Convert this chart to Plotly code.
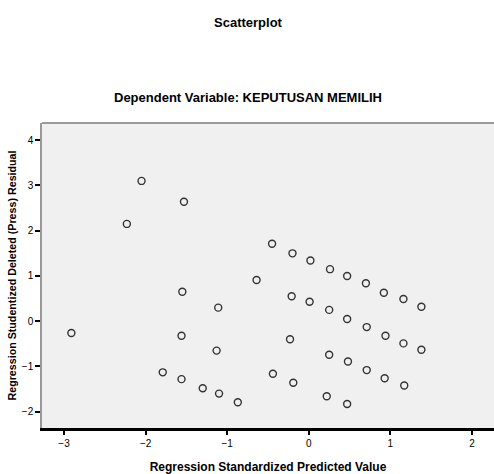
import plotly.graph_objects as go

# Regression standardized predicted value (x) and residual (y)
pred = [-2.05, -1.53, -2.23, -0.45, -0.20, -0.64, -1.55, -0.21, -1.11, -2.91,
        -1.56, -0.23, -1.13, -1.79, -1.56, -0.44, -0.19, -1.30, -1.10, -0.87,
        0.02, 0.26, 0.47, 0.70, 0.92, 1.16, 1.38,
        0.01, 0.25, 0.47, 0.71, 0.94, 1.16, 1.38,
        0.25, 0.48, 0.71, 0.93, 1.17,
        0.22, 0.47]
resid = [3.10, 2.64, 2.15, 1.71, 1.50, 0.91, 0.65, 0.55, 0.30, -0.26,
         -0.32, -0.40, -0.65, -1.13, -1.28, -1.16, -1.36, -1.48, -1.60, -1.79,
         1.34, 1.15, 1.00, 0.84, 0.63, 0.49, 0.32,
         0.43, 0.25, 0.05, -0.13, -0.32, -0.49, -0.63,
         -0.74, -0.89, -1.08, -1.26, -1.42,
         -1.66, -1.83]

x_ticks = [-3, -2, -1, 0, 1, 2]
y_ticks = [-2, -1, 0, 1, 2, 3, 4]

title = "Scatterplot"
subtitle = "Dependent Variable: KEPUTUSAN MEMILIH"
x_title = "Regression Standardized Predicted Value"
y_title = "Regression Studentized Deleted (Press) Residual"

FONT = "Liberation Sans, Arial, sans-serif"

fig = go.Figure(go.Scatter(
    x=pred, y=resid, mode="markers",
    marker=dict(symbol="circle-open", size=7, color="#333333",
                line=dict(width=1.4, color="#222222")),
    hoverinfo="skip"))

fig.update_layout(
    width=494, height=474,
    margin=dict(l=42, r=0, t=123, b=46),
    paper_bgcolor="white", plot_bgcolor="#f0f0f0",
    showlegend=False,
    font=dict(family=FONT, color="black", size=10),
    xaxis=dict(range=[-3.27, 2.27], tickvals=x_ticks, showgrid=False, zeroline=False,
               automargin=False,
               showline=True, linecolor="black", linewidth=3,
               ticks="outside", ticklen=4, tickwidth=1.5, tickcolor="black",
               tickfont=dict(size=10, family=FONT),
               title=dict(text="<b>" + x_title + "</b>", font=dict(size=12, family=FONT), standoff=16)),
    yaxis=dict(range=[-2.36, 4.38], tickvals=y_ticks, showgrid=False, zeroline=False,
               automargin=False,
               showline=True, linecolor="#999999", linewidth=1.5,
               ticks="outside", ticklen=5, tickwidth=1.5, tickcolor="black",
               tickfont=dict(size=10, family=FONT),
               title=dict(text="<b>" + y_title + "</b>", font=dict(size=10.7, family=FONT), standoff=3)),
    shapes=[dict(type="line", xref="paper", yref="paper", x0=0, x1=1, y0=1, y1=1,
                 line=dict(color="#9a9a9a", width=2))],
    annotations=[
        dict(text="<b>" + title + "</b>", xref="paper", yref="paper",
             x=0.456, y=1.328, xanchor="center", yanchor="middle", showarrow=False,
             font=dict(size=13, family=FONT)),
        dict(text="<b>" + subtitle + "</b>", xref="paper", yref="paper",
             x=0.456, y=1.085, xanchor="center", yanchor="middle", showarrow=False,
             font=dict(size=13, family=FONT)),
    ],
)

fig.write_html("out.html", config={"displayModeBar": False},
               post_script="document.body.style.margin='0';document.body.style.overflow='hidden';")
